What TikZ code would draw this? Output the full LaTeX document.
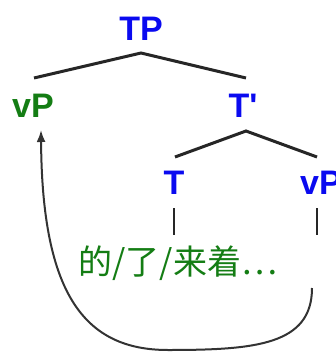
\documentclass[tikz,border=0pt]{standalone}
\usepackage{fontspec}
\setmainfont{Liberation Sans}[Ligatures=TeXOff]
\newfontfamily\cjk{Noto Sans CJK SC}
\usetikzlibrary{arrows.meta}
\definecolor{catblue}{RGB}{10,10,240}
\definecolor{catgreen}{RGB}{20,125,20}
\tikzset{
  cat/.style={font=\fontsize{34}{34}\selectfont\bfseries, text=catblue, inner sep=0pt},
  gcat/.style={cat, text=catgreen},
  branch/.style={line width=3pt, black!85},
  tick/.style={line width=2.6pt, black!85},
  move/.style={line width=2pt, black!80, -{Latex[length=12pt,width=9pt]}},
}
\begin{document}
\begin{tikzpicture}[x=1pt,y=-1pt]
\useasboundingbox (0,0) rectangle (335,353);
\node[cat] (TP) at (141,29) {TP};
\node[gcat] (vP) at (33,106) {vP};
\node[cat] (Tbar) at (243,106) {T'};
\node[cat] (T) at (174,183) {T};
\node[cat] (vP2) at (321,183) {vP};
\node[text=catgreen, inner sep=0pt, font=\cjk\fontsize{34}{34}\selectfont] (lex) at (178,263) {的/了/来着…};
\coordinate (tp1) at (141,53);
\coordinate (vpTop) at (34,78);
\coordinate (tbTop) at (246,78);
\coordinate (tb1) at (246,131);
\coordinate (tTop) at (175,157);
\coordinate (vp2Top) at (317,157);
\coordinate (tA) at (174,208);
\coordinate (tB) at (174,235);
\coordinate (vA) at (317,208);
\coordinate (vB) at (317,235);
\coordinate (cStart) at (312,288);
\coordinate (cBot) at (168,350);
\coordinate (tip) at (41,130);
\draw[branch] (vpTop) -- (tp1) -- (tbTop);
\draw[branch] (tTop) -- (tb1) -- (vp2Top);
\draw[tick] (tA) -- (tB);
\draw[tick] (vA) -- (vB);
\draw[move] (cStart) .. controls (312,345) and (255,350) .. (cBot)
  .. controls (85,350) and (42,295) .. (tip);
\end{tikzpicture}
\end{document}
